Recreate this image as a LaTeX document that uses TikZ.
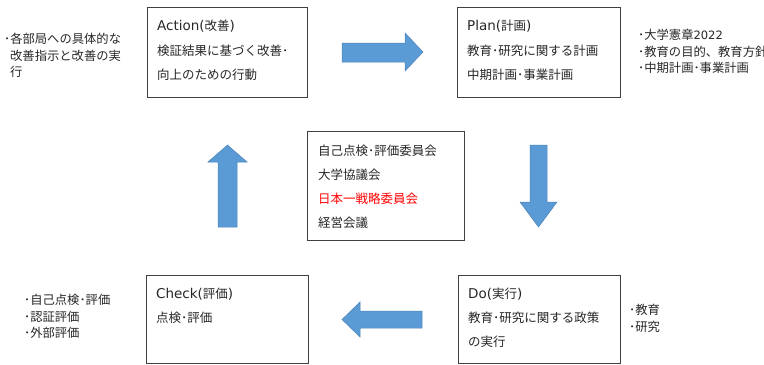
\documentclass[tikz,border=0pt]{standalone}
\usepackage{fontspec}
\setmainfont{Noto Sans CJK JP}
\newfontfamily\latinf{DejaVu Sans}
\definecolor{arrowblue}{HTML}{5B9BD5}
\definecolor{arrowedge}{HTML}{4A82B8}
\definecolor{boxedge}{HTML}{404040}
\definecolor{txt}{HTML}{262626}
\newcommand{\lat}[1]{{\latinf\fontsize{13.5bp}{15bp}\selectfont #1}}
\newcommand{\slat}[1]{{\latinf\fontsize{11.5bp}{15bp}\selectfont #1}}
\tikzset{
  box/.style={draw=boxedge, line width=0.8bp, anchor=north west, inner sep=0pt},
  btxt/.style={anchor=west, inner sep=0pt, text=txt, font=\fontsize{12.5bp}{15bp}\selectfont},
  side/.style={anchor=north west, inner sep=0pt, text=txt, align=left, font=\fontsize{12.3bp}{16.5bp}\selectfont},
  blockarrow/.style={fill=arrowblue, draw=arrowedge, line width=0.5bp, line join=miter}
}
\begin{document}
\begin{tikzpicture}[x=1bp,y=-1bp]
\useasboundingbox (0,0) rectangle (764,364);
% boxes
\node[box, minimum width=160bp, minimum height=90bp] (act) at (147,7) {};
\node[box, minimum width=163bp, minimum height=90bp] (plan) at (457,7) {};
\node[box, minimum width=157bp, minimum height=109bp] (mid) at (307,131) {};
\node[box, minimum width=162bp, minimum height=88bp] (chk) at (146,275) {};
\node[box, minimum width=162bp, minimum height=88bp] (do) at (458,275) {};
% Action text
\node[btxt] (a1) at (157,26) {\lat{Action(}改善\lat{)}};
\node[btxt] (a2) at (157,51) {検証結果に基づく改善･};
\node[btxt] (a3) at (157,75) {向上のための行動};
% Plan text
\node[btxt] (p1) at (467,26) {\lat{Plan(}計画\lat{)}};
\node[btxt] (p2) at (467,51) {教育･研究に関する計画};
\node[btxt] (p3) at (467,75) {中期計画･事業計画};
% middle text
\node[btxt] (m1) at (318,151) {自己点検･評価委員会};
\node[btxt] (m2) at (318,175) {大学協議会};
\node[btxt, text=red] (m3) at (318,199) {日本一戦略委員会};
\node[btxt] (m4) at (318,223) {経営会議};
% Check text
\node[btxt] (c1) at (156,294) {\lat{Check(}評価\lat{)}};
\node[btxt] (c2) at (156,318) {点検･評価};
% Do text
\node[btxt] (d1) at (468,294) {\lat{Do(}実行\lat{)}};
\node[btxt] (d2) at (468,318) {教育･研究に関する政策};
\node[btxt] (d3) at (468,342) {の実行};
% side texts
\node[side] (sa) at (4,33) {･各部局への具体的な\\\hspace*{6bp}改善指示と改善の実\\\hspace*{6bp}行};
\node[side] (sp) at (638,29) {･大学憲章\slat{2022}\\･教育の目的、教育方針\\･中期計画･事業計画};
\node[side] (sc) at (24,294) {･自己点検･評価\\･認証評価\\･外部評価};
\node[side] (sd) at (629,304) {･教育\\･研究};
% block arrows
\draw[blockarrow] (342,43) -- (405,43) -- (405,33) -- (423,52) -- (405,71) -- (405,62) -- (342,62) -- cycle;
\draw[blockarrow] (530,145) -- (547,145) -- (547,202) -- (557,202) -- (538.5,227) -- (520,202) -- (530,202) -- cycle;
\draw[blockarrow] (422,311) -- (360,311) -- (360,302) -- (342,319.5) -- (360,337) -- (360,328) -- (422,328) -- cycle;
\draw[blockarrow] (218,227) -- (218,162) -- (208,162) -- (227.5,145) -- (247,162) -- (237,162) -- (237,227) -- cycle;
\end{tikzpicture}
\end{document}
